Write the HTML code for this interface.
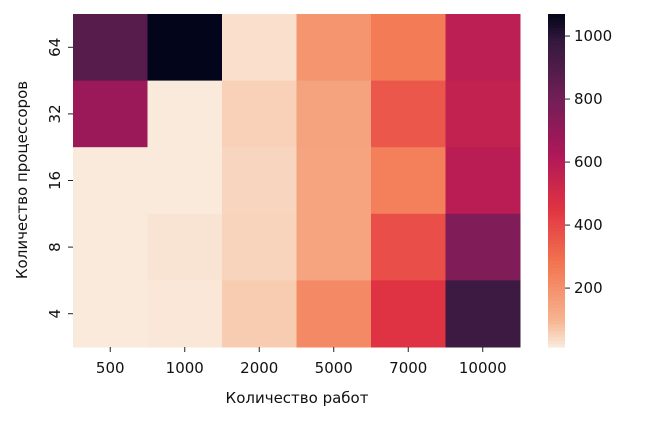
<!DOCTYPE html>
<html><head><meta charset="utf-8"><style>
body{margin:0;background:#fff;}
svg text{font-family:"DejaVu Sans","Liberation Sans",sans-serif;font-size:15px;fill:#111;}
</style></head><body>
<svg id="chart" width="645" height="422" xmlns="http://www.w3.org/2000/svg">
<g id="cells"></g>
<g id="axes"></g>
<g id="cbar"></g>
<text x="297" y="403" text-anchor="middle">Количество работ</text>
<text transform="translate(27,180) rotate(-90)" text-anchor="middle">Количество процессоров</text>
</svg>
<script>
const xCats=["500","1000","2000","5000","7000","10000"];
const yCats=["64","32","16","8","4"];
const row64=[880,1070,32,190,260,580];
const row32=[680,15,55,150,360,560];
const row16=[15,15,48,145,250,590];
const row8=[15,24,50,145,380,760];
const row4=[15,20,62,220,460,960];
const cbTicks=[200,400,600,800,1000];
const values=[row64,row32,row16,row8,row4];
const vmin=13,vmax=1070;
const L=73,R=520,T=14,B=347;
const cw=(R-L)/xCats.length,ch=(B-T)/yCats.length;
const stopPos=[0,0.083,0.25,0.417,0.583,0.75,0.917,1];
const stopCol=["#FAEBDD","#F6B48F","#F37651","#E13342","#AD1759","#701F57","#35193E","#03051A"];
function hex(h){return [1,3,5].map(i=>parseInt(h.substr(i,2),16));}
function cmap(v){let t=Math.max(0,Math.min(1,(v-vmin)/(vmax-vmin)));let i=0;while(i<stopPos.length-2&&t>stopPos[i+1])i++;let f=(t-stopPos[i])/(stopPos[i+1]-stopPos[i]);let a=hex(stopCol[i]),b=hex(stopCol[i+1]);return "rgb("+a.map((c,k)=>Math.round(c+(b[k]-c)*f)).join(",")+")";}
const NS="http://www.w3.org/2000/svg";
function mk(tag,attrs,parent){const e=document.createElementNS(NS,tag);for(const k in attrs)e.setAttribute(k,attrs[k]);parent.appendChild(e);return e;}
const cells=document.getElementById("cells"),axes=document.getElementById("axes"),cb=document.getElementById("cbar");
values.forEach((row,r)=>row.forEach((v,c)=>{
 const e=mk("rect",{x:L+c*cw,y:T+r*ch,width:cw+0.5,height:ch+0.5,fill:cmap(v)},cells);
 
 
}));
xCats.forEach((c,i)=>{const x=L+(i+0.5)*cw;
 mk("line",{x1:x,x2:x,y1:B,y2:B+5,stroke:"#222","stroke-width":1},axes);
 const t=mk("text",{x:x,y:B+26,"text-anchor":"middle"},axes);t.textContent=c;
 
 
});
yCats.forEach((c,i)=>{const y=T+(i+0.5)*ch;
 mk("line",{x1:L-5,x2:L,y1:y,y2:y,stroke:"#222","stroke-width":1},axes);
 const t=mk("text",{transform:"translate("+(L-13)+","+y+") rotate(-90)","text-anchor":"middle"},axes);t.textContent=c;
 
 
});
const cx=548,cwid=17,n=100;
for(let i=0;i<n;i++){const v=vmin+(vmax-vmin)*(i+0.5)/n;const y=B-(i+1)*(B-T)/n;
 mk("rect",{x:cx,y:y,width:cwid,height:(B-T)/n+0.6,fill:cmap(v)},cb);}
cbTicks.forEach(v=>{const y=B-(v-vmin)/(vmax-vmin)*(B-T);
 mk("line",{x1:cx+cwid,x2:cx+cwid+5,y1:y,y2:y,stroke:"#222","stroke-width":1},cb);
 const t=mk("text",{x:cx+cwid+9,y:y+5},cb);t.textContent=v;
 
 
});
</script>
</body></html>
